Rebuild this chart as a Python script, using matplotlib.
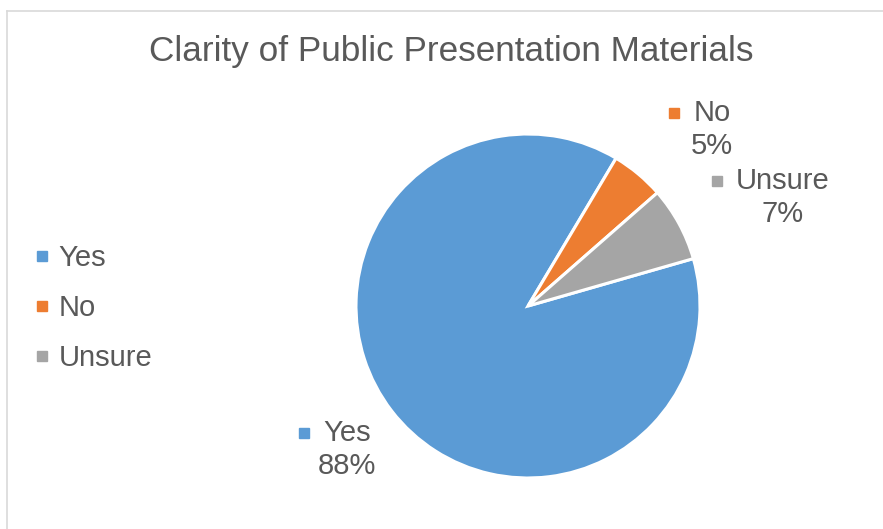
import numpy as np
import matplotlib.pyplot as plt
from matplotlib.lines import Line2D

plt.rcParams['font.family'] = ['Liberation Sans', 'DejaVu Sans']

# data
categories = ['Yes', 'No', 'Unsure']
values = [88, 5, 7]
colors = ['#5B9BD5', '#ED7D31', '#A5A5A5']
title = 'Clarity of Public Presentation Materials'
text_color = '#595959'

W, H = 883, 529
fig = plt.figure(figsize=(W / 100, H / 100), dpi=100)

# pie area (pixel layout)
cx, cy, r = 528, 306, 172
ax = fig.add_axes([(cx - r) / W, (H - cy - r) / H, 2 * r / W, 2 * r / H])
wedges, _ = ax.pie(values, colors=colors, startangle=16, counterclock=False,
                   radius=1, wedgeprops=dict(edgecolor='white', linewidth=2.2))
ax.set_xlim(-1, 1)
ax.set_ylim(-1, 1)
ax.set_aspect('equal')
ax.axis('off')

# data labels: offset of first label line from pie centre, in pixels (y down)
label_offsets = [(-181, 127), (184, -193), (255, -125)]
fs = 21
fig.canvas.draw()
renderer = fig.canvas.get_renderer()
for w, cat, v, col, (dx, dy) in zip(wedges, categories, values, colors, label_offsets):
    lx, ly = cx + dx, cy + dy
    t1 = fig.text(lx / W, 1 - ly / H, cat, ha='center', va='center',
                  fontsize=fs, color=text_color)
    fig.text(lx / W, 1 - (ly + 33) / H, f'{v}%', ha='center', va='center',
             fontsize=fs, color=text_color)
    bb = t1.get_window_extent(renderer)
    mx = bb.x0 - 19
    fig.add_artist(Line2D([mx / W], [1 - ly / H], marker='s', markersize=6.5,
                          color=col, transform=fig.transFigure))

# legend
handles = [Line2D([], [], marker='s', linestyle='none', markersize=6.5, color=c)
           for c in colors]
fig.legend(handles, categories, loc='center left', bbox_to_anchor=(34 / W, 1 - 308 / H),
           frameon=False, fontsize=fs, labelcolor=text_color, handlelength=0.55,
           handletextpad=0.3, labelspacing=0.76, borderpad=0, borderaxespad=0)

# title
fig.text(451 / W, 1 - 52 / H, title, ha='center', va='center', fontsize=25.3,
         color=text_color)

# chart border (top and left visible)
fig.add_artist(Line2D([7 / W, 1], [1 - 11 / H, 1 - 11 / H], color='#D9D9D9',
                      linewidth=1.2, transform=fig.transFigure))
fig.add_artist(Line2D([7 / W, 7 / W], [0, 1 - 11 / H], color='#D9D9D9',
                      linewidth=1.2, transform=fig.transFigure))

fig.savefig('out.png', dpi=100)
